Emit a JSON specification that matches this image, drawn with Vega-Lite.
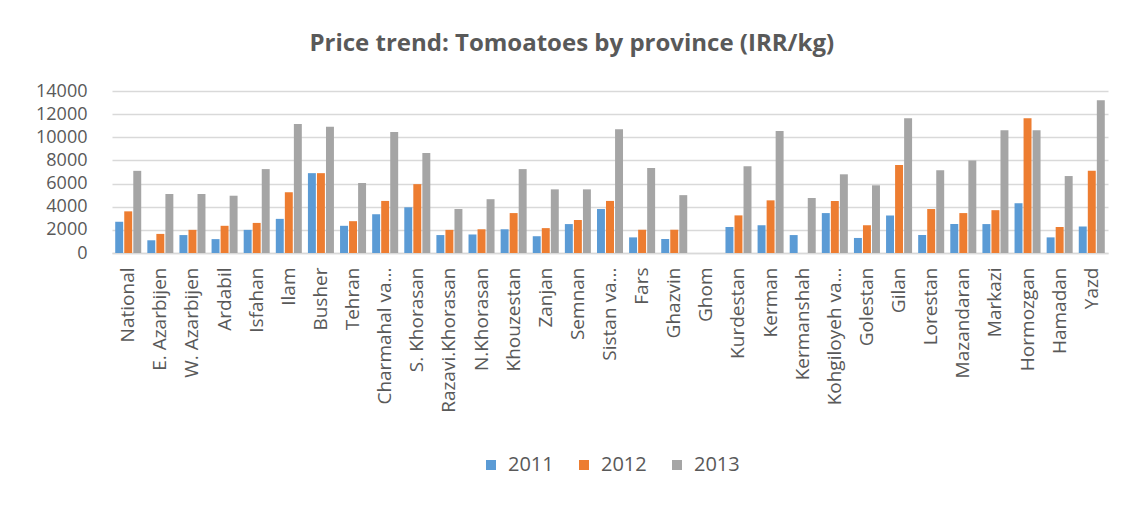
{
  "$schema": "https://vega.github.io/schema/vega-lite/v6.json",
  "width": 996,
  "height": 162,
  "padding": {"left": 35, "top": 32, "right": 24, "bottom": 5},
  "background": "white",
  "title": {
    "text": "Price trend: Tomoatoes by province (IRR/kg)",
    "font": "Open Sans",
    "fontSize": 24,
    "fontWeight": "bold",
    "color": "#595959",
    "anchor": "middle",
    "frame": "bounds",
    "offset": 26
  },
  "data": {
    "values": [
      {"province": "National", "year": "2011", "value": 2700},
      {"province": "National", "year": "2012", "value": 3600},
      {"province": "National", "year": "2013", "value": 7100},
      {"province": "E. Azarbijen", "year": "2011", "value": 1100},
      {"province": "E. Azarbijen", "year": "2012", "value": 1650},
      {"province": "E. Azarbijen", "year": "2013", "value": 5100},
      {"province": "W. Azarbijen", "year": "2011", "value": 1550},
      {"province": "W. Azarbijen", "year": "2012", "value": 2000},
      {"province": "W. Azarbijen", "year": "2013", "value": 5100},
      {"province": "Ardabil", "year": "2011", "value": 1200},
      {"province": "Ardabil", "year": "2012", "value": 2350},
      {"province": "Ardabil", "year": "2013", "value": 4950},
      {"province": "Isfahan", "year": "2011", "value": 2000},
      {"province": "Isfahan", "year": "2012", "value": 2600},
      {"province": "Isfahan", "year": "2013", "value": 7250},
      {"province": "Ilam", "year": "2011", "value": 2950},
      {"province": "Ilam", "year": "2012", "value": 5250},
      {"province": "Ilam", "year": "2013", "value": 11150},
      {"province": "Busher", "year": "2011", "value": 6900},
      {"province": "Busher", "year": "2012", "value": 6900},
      {"province": "Busher", "year": "2013", "value": 10900},
      {"province": "Tehran", "year": "2011", "value": 2350},
      {"province": "Tehran", "year": "2012", "value": 2750},
      {"province": "Tehran", "year": "2013", "value": 6050},
      {"province": "Charmahal va...", "year": "2011", "value": 3350},
      {"province": "Charmahal va...", "year": "2012", "value": 4500},
      {"province": "Charmahal va...", "year": "2013", "value": 10450},
      {"province": "S. Khorasan", "year": "2011", "value": 3950},
      {"province": "S. Khorasan", "year": "2012", "value": 5950},
      {"province": "S. Khorasan", "year": "2013", "value": 8650},
      {"province": "Razavi.Khorasan", "year": "2011", "value": 1550},
      {"province": "Razavi.Khorasan", "year": "2012", "value": 2000},
      {"province": "Razavi.Khorasan", "year": "2013", "value": 3800},
      {"province": "N.Khorasan", "year": "2011", "value": 1600},
      {"province": "N.Khorasan", "year": "2012", "value": 2050},
      {"province": "N.Khorasan", "year": "2013", "value": 4650},
      {"province": "Khouzestan", "year": "2011", "value": 2050},
      {"province": "Khouzestan", "year": "2012", "value": 3450},
      {"province": "Khouzestan", "year": "2013", "value": 7250},
      {"province": "Zanjan", "year": "2011", "value": 1450},
      {"province": "Zanjan", "year": "2012", "value": 2150},
      {"province": "Zanjan", "year": "2013", "value": 5500},
      {"province": "Semnan", "year": "2011", "value": 2500},
      {"province": "Semnan", "year": "2012", "value": 2850},
      {"province": "Semnan", "year": "2013", "value": 5500},
      {"province": "Sistan va...", "year": "2011", "value": 3800},
      {"province": "Sistan va...", "year": "2012", "value": 4500},
      {"province": "Sistan va...", "year": "2013", "value": 10700},
      {"province": "Fars", "year": "2011", "value": 1350},
      {"province": "Fars", "year": "2012", "value": 2000},
      {"province": "Fars", "year": "2013", "value": 7350},
      {"province": "Ghazvin", "year": "2011", "value": 1200},
      {"province": "Ghazvin", "year": "2012", "value": 2000},
      {"province": "Ghazvin", "year": "2013", "value": 5000},
      {"province": "Ghom", "year": "2011", "value": 0},
      {"province": "Ghom", "year": "2012", "value": 0},
      {"province": "Ghom", "year": "2013", "value": 0},
      {"province": "Kurdestan", "year": "2011", "value": 2250},
      {"province": "Kurdestan", "year": "2012", "value": 3250},
      {"province": "Kurdestan", "year": "2013", "value": 7500},
      {"province": "Kerman", "year": "2011", "value": 2400},
      {"province": "Kerman", "year": "2012", "value": 4550},
      {"province": "Kerman", "year": "2013", "value": 10550},
      {"province": "Kermanshah", "year": "2011", "value": 1550},
      {"province": "Kermanshah", "year": "2012", "value": 0},
      {"province": "Kermanshah", "year": "2013", "value": 4750},
      {"province": "Kohgiloyeh va...", "year": "2011", "value": 3450},
      {"province": "Kohgiloyeh va...", "year": "2012", "value": 4500},
      {"province": "Kohgiloyeh va...", "year": "2013", "value": 6800},
      {"province": "Golestan", "year": "2011", "value": 1300},
      {"province": "Golestan", "year": "2012", "value": 2400},
      {"province": "Golestan", "year": "2013", "value": 5850},
      {"province": "Gilan", "year": "2011", "value": 3250},
      {"province": "Gilan", "year": "2012", "value": 7600},
      {"province": "Gilan", "year": "2013", "value": 11650},
      {"province": "Lorestan", "year": "2011", "value": 1550},
      {"province": "Lorestan", "year": "2012", "value": 3800},
      {"province": "Lorestan", "year": "2013", "value": 7150},
      {"province": "Mazandaran", "year": "2011", "value": 2500},
      {"province": "Mazandaran", "year": "2012", "value": 3450},
      {"province": "Mazandaran", "year": "2013", "value": 8000},
      {"province": "Markazi", "year": "2011", "value": 2500},
      {"province": "Markazi", "year": "2012", "value": 3700},
      {"province": "Markazi", "year": "2013", "value": 10600},
      {"province": "Hormozgan", "year": "2011", "value": 4300},
      {"province": "Hormozgan", "year": "2012", "value": 11650},
      {"province": "Hormozgan", "year": "2013", "value": 10600},
      {"province": "Hamadan", "year": "2011", "value": 1350},
      {"province": "Hamadan", "year": "2012", "value": 2250},
      {"province": "Hamadan", "year": "2013", "value": 6650},
      {"province": "Yazd", "year": "2011", "value": 2300},
      {"province": "Yazd", "year": "2012", "value": 7100},
      {"province": "Yazd", "year": "2013", "value": 13200}
    ]
  },
  "mark": {"type": "bar"},
  "encoding": {
    "x": {
      "field": "province",
      "type": "nominal",
      "sort": null,
      "title": null,
      "scale": {"paddingInner": 0.19, "paddingOuter": 0.1},
      "axis": {
        "labelAngle": -90,
        "labelFont": "Open Sans",
        "labelFontSize": 19,
        "labelColor": "#595959",
        "labelLimit": 250,
        "labelPadding": 14,
        "ticks": false,
        "domainColor": "#D9D9D9",
        "domainWidth": 1.5,
        "grid": false
      }
    },
    "xOffset": {
      "field": "year",
      "type": "nominal",
      "scale": {"paddingInner": 0.12}
    },
    "y": {
      "field": "value",
      "type": "quantitative",
      "title": null,
      "scale": {"domain": [0, 14000]},
      "axis": {
        "values": [0, 2000, 4000, 6000, 8000, 10000, 12000, 14000],
        "format": "d",
        "labelFont": "Open Sans",
        "labelFontSize": 18,
        "labelColor": "#595959",
        "labelPadding": 25,
        "ticks": false,
        "domain": false,
        "gridColor": "#D9D9D9",
        "gridWidth": 1.5
      }
    },
    "color": {
      "field": "year",
      "type": "nominal",
      "title": null,
      "scale": {"domain": ["2011", "2012", "2013"], "range": ["#5B9BD5", "#ED7D31", "#A5A5A5"]},
      "legend": {
        "orient": "bottom",
        "direction": "horizontal",
        "symbolType": "square",
        "symbolSize": 100,
        "symbolOffset": 0,
        "labelOffset": 7,
        "labelFont": "Open Sans",
        "labelFontSize": 20,
        "labelColor": "#595959",
        "columnPadding": 20,
        "offset": 42
      }
    }
  },
  "config": {
    "view": {"stroke": null},
    "legend": {"layout": {"bottom": {"anchor": "middle"}}}
  }
}
